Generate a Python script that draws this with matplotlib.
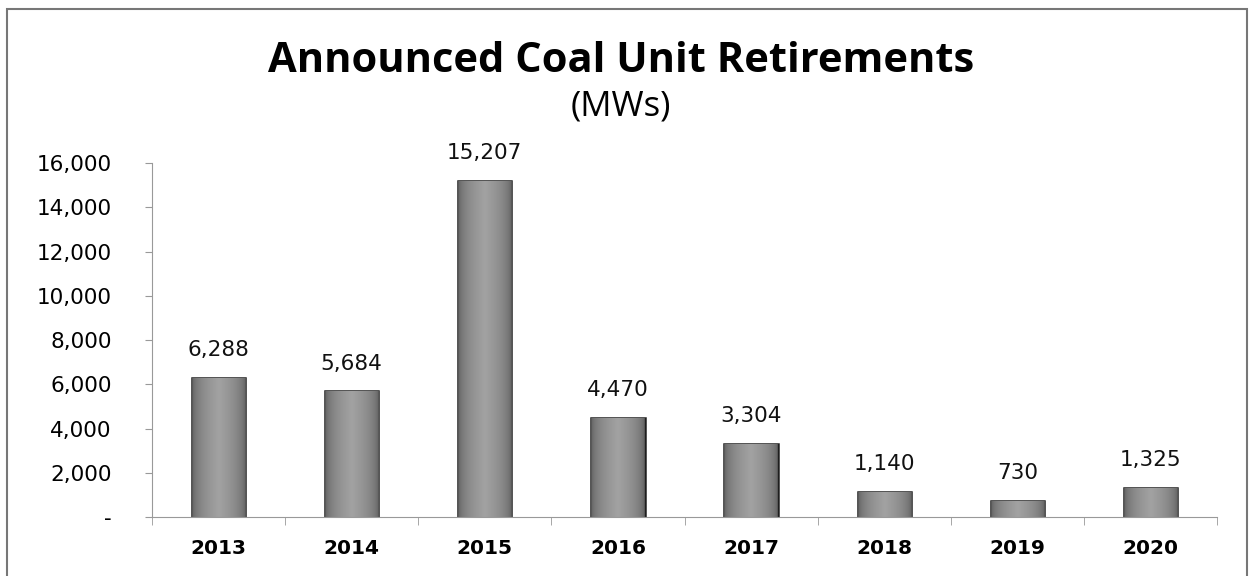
"""
Announced coal unit retirements (MW) by year -- bar chart recreation.
"""
import matplotlib

matplotlib.use("Agg")
import matplotlib.pyplot as plt
import numpy as np
from matplotlib.colors import LinearSegmentedColormap
from matplotlib.patches import Rectangle
from matplotlib.ticker import FuncFormatter

years = ["2013", "2014", "2015", "2016", "2017", "2018", "2019", "2020"]
mws = [6288, 5684, 15207, 4470, 3304, 1140, 730, 1325]
yticks = [0, 2000, 4000, 6000, 8000, 10000, 12000, 14000, 16000]


def main():
    fig = plt.figure(figsize=(12.49, 5.76), dpi=100)
    ax = fig.add_axes([0.1217, 0.1024, 0.8527, 0.6146])

    x = np.arange(len(years))
    bars = ax.bar(x, mws, width=0.40, color="#7e7e7e", edgecolor="#1e1e1e",
                  linewidth=1.8, zorder=2)

    # cylinder-like shading, darker at the sides
    cmap = LinearSegmentedColormap.from_list("bar", ["#555555", "#a2a2a2"])
    grad = np.linspace(0, 1, 64)
    img = np.tile(1 - np.abs(grad - 0.5) * 2, (2, 1)) ** 0.4
    for b in bars:
        x0, w, h = b.get_x(), b.get_width(), b.get_height()
        im = ax.imshow(img, cmap=cmap, vmin=0, vmax=1, aspect="auto",
                       extent=(x0, x0 + w, 0, h), zorder=2.5, interpolation="bilinear")
        im.set_clip_path(b)
    ax.set_aspect("auto")

    for xi, v in zip(x, mws):
        ax.text(xi, v + 800, f"{v:,}", ha="center", va="bottom", fontsize=15.5,
                color="#111111")

    ax.set_xlim(-0.5, len(years) - 0.5)
    ax.set_ylim(0, 16000)
    ax.set_yticks(yticks)
    ax.yaxis.set_major_formatter(FuncFormatter(lambda v, p: "-" if v == 0 else f"{v:,.0f}"))
    ax.set_xticks(x)
    ax.set_xticklabels(years, fontweight="bold")
    ax.set_xticks(np.arange(-0.5, len(years)), minor=True)
    ax.tick_params(axis="x", which="major", length=0, pad=16, labelsize=14.5)
    ax.tick_params(axis="x", which="minor", length=6, color="#999999", direction="out")
    ax.tick_params(axis="y", length=5, color="#999999", pad=24, labelsize=15.5)

    for s in ["top", "right"]:
        ax.spines[s].set_visible(False)
    ax.spines["left"].set_color("#999999")
    ax.spines["bottom"].set_color("#999999")

    fig.text(0.497, 0.893, "Announced Coal Unit Retirements", ha="center",
             va="center", fontsize=30, fontweight="bold", family="Open Sans")
    fig.text(0.497, 0.815, "(MWs)", ha="center", va="center", fontsize=25,
             family="Open Sans")

    fig.patches.append(Rectangle((0.006, -0.01), 0.992, 0.995, transform=fig.transFigure,
                                 fill=False, edgecolor="#777777", linewidth=1.5))

    fig.savefig("out.png", dpi=100)


if __name__ == "__main__":
    main()
